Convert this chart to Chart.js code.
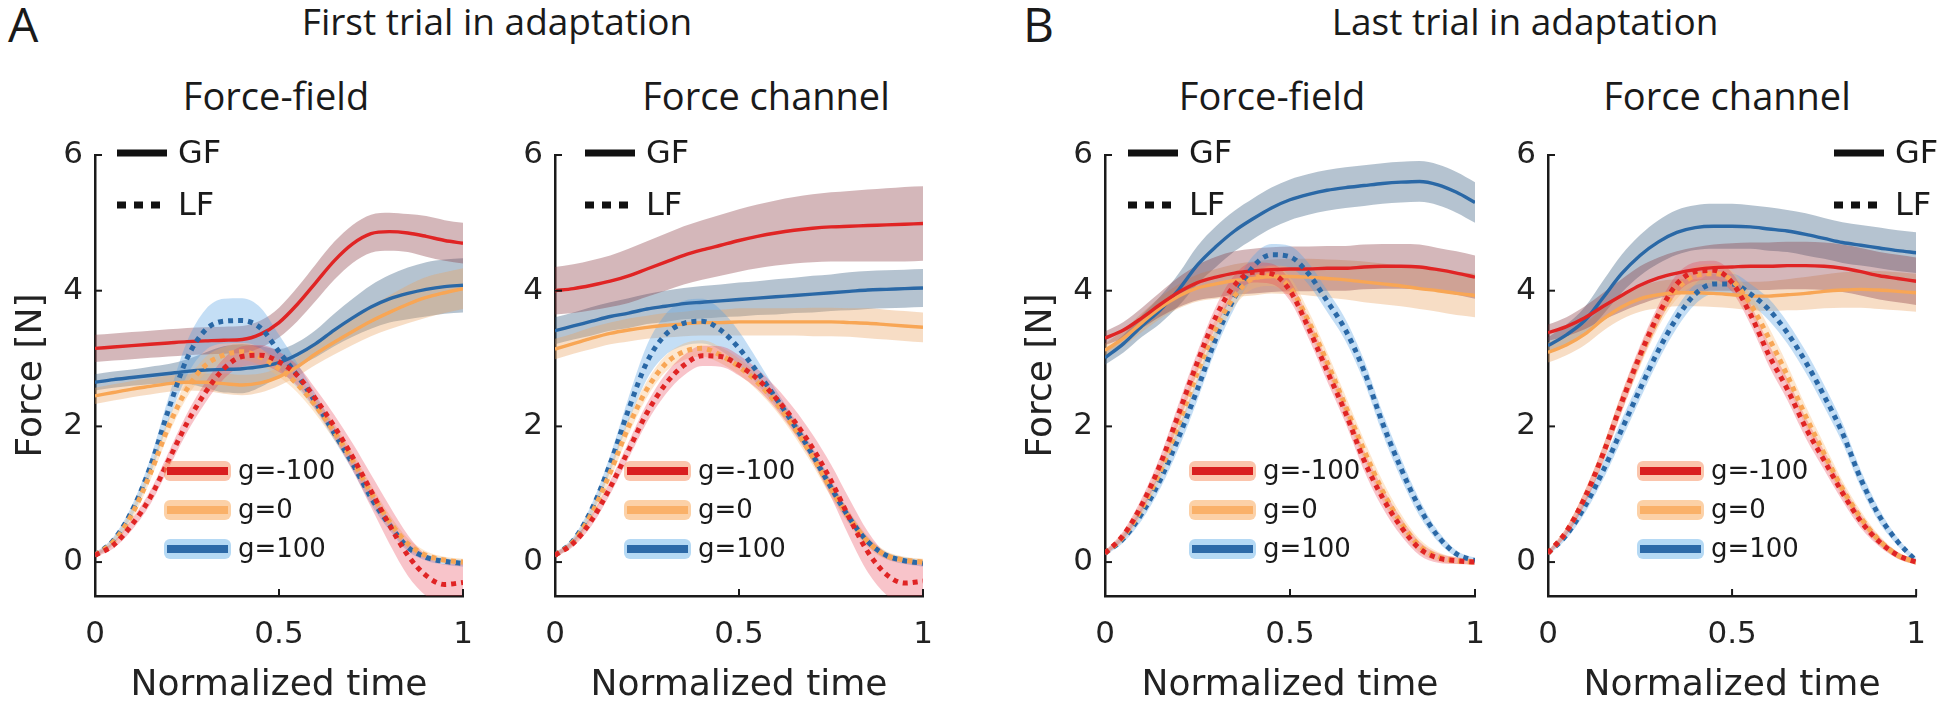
<!DOCTYPE html>
<html>
<head>
<meta charset="utf-8">
<script src="https://cdn.jsdelivr.net/npm/chart.js@4.4.1/dist/chart.umd.min.js"></script>
<style>
  html, body { margin: 0; padding: 0; background: #fff; overflow: hidden; }
  #wrap { position: relative; width: 1946px; height: 709px; }
  canvas { position: absolute; top: 0; }
  .t { position: absolute; font-family: 'Open Sans', sans-serif; color: #1a1a1a; white-space: nowrap; line-height: 1; }
  .c { transform: translateX(-50%); }
</style>
</head>
<body>
<div id="wrap">
  <div class="t" style="left:8px;top:0px;font-size:48px">A</div>
  <div class="t c" style="left:497px;top:2px;font-size:37px">First trial in adaptation</div>
  <div class="t c" style="left:276px;top:76px;font-size:38px">Force-field</div>
  <div class="t c" style="left:766px;top:76px;font-size:38px">Force channel</div>
  <div class="t" style="left:1023px;top:0px;font-size:48px">B</div>
  <div class="t c" style="left:1525px;top:2px;font-size:37px">Last trial in adaptation</div>
  <div class="t c" style="left:1272px;top:76px;font-size:38px">Force-field</div>
  <div class="t c" style="left:1727px;top:76px;font-size:38px">Force channel</div>

  <canvas id="a1" width="488" height="709" style="left:5px"></canvas>
  <canvas id="a2" width="488" height="709" style="left:465px"></canvas>
  <canvas id="b1" width="490" height="709" style="left:1015px"></canvas>
  <canvas id="b2" width="488" height="709" style="left:1458px"></canvas>
</div>

<script>
// ---- data ----
const time = [0, 0.05, 0.1, 0.15, 0.2, 0.25, 0.3, 0.35, 0.4, 0.45, 0.5, 0.55, 0.6, 0.65, 0.7, 0.75, 0.8, 0.85, 0.9, 0.95, 1];
const xTicks = [0, 0.5, 1];
const yTicks = [0, 2, 4, 6];
const groups = ["g=-100", "g=0", "g=100"];

// A, force-field (first trial)
const A1_GF_neg = [3.15, 3.17, 3.19, 3.21, 3.23, 3.25, 3.26, 3.27, 3.28, 3.36, 3.53, 3.8, 4.12, 4.44, 4.69, 4.84, 4.87, 4.85, 4.8, 4.74, 4.7];
const A1_GF_zero = [2.45, 2.5, 2.55, 2.59, 2.63, 2.65, 2.65, 2.63, 2.61, 2.64, 2.73, 2.88, 3.07, 3.24, 3.4, 3.55, 3.68, 3.8, 3.9, 3.97, 4.03];
const A1_GF_pos = [2.65, 2.69, 2.72, 2.75, 2.78, 2.81, 2.83, 2.84, 2.85, 2.88, 2.94, 3.06, 3.22, 3.42, 3.6, 3.76, 3.88, 3.96, 4.02, 4.06, 4.08];
const A1_GF_neg_sd = [0.2, 0.2, 0.2, 0.2, 0.2, 0.2, 0.2, 0.2, 0.2, 0.2, 0.22, 0.25, 0.27, 0.28, 0.28, 0.28, 0.28, 0.28, 0.3, 0.3, 0.3];
const A1_GF_zero_sd = [0.12, 0.12, 0.12, 0.12, 0.12, 0.12, 0.13, 0.15, 0.15, 0.14, 0.13, 0.14, 0.16, 0.18, 0.2, 0.22, 0.25, 0.28, 0.3, 0.3, 0.3];
const A1_GF_pos_sd = [0.12, 0.12, 0.12, 0.13, 0.14, 0.18, 0.26, 0.34, 0.36, 0.3, 0.2, 0.18, 0.2, 0.24, 0.28, 0.32, 0.35, 0.38, 0.4, 0.4, 0.4];
const A1_LF_neg = [0.1, 0.25, 0.55, 0.95, 1.5, 2.05, 2.5, 2.85, 3.03, 3.05, 2.95, 2.75, 2.4, 2.0, 1.55, 1.05, 0.55, 0.1, -0.2, -0.33, -0.3];
const A1_LF_zero = [0.1, 0.3, 0.7, 1.3, 2.0, 2.55, 2.9, 3.05, 3.1, 3.02, 2.85, 2.62, 2.3, 1.92, 1.5, 1.02, 0.6, 0.27, 0.1, 0.03, 0.0];
const A1_LF_pos = [0.1, 0.32, 0.75, 1.4, 2.25, 3.0, 3.42, 3.55, 3.56, 3.45, 3.1, 2.75, 2.35, 1.9, 1.45, 0.95, 0.55, 0.22, 0.07, 0.01, -0.02];
const A1_LF_neg_sd = [0.03, 0.05, 0.08, 0.1, 0.12, 0.14, 0.15, 0.15, 0.15, 0.15, 0.15, 0.15, 0.15, 0.17, 0.2, 0.24, 0.28, 0.3, 0.3, 0.3, 0.28];
const A1_LF_zero_sd = [0.03, 0.05, 0.08, 0.1, 0.12, 0.12, 0.12, 0.12, 0.12, 0.12, 0.12, 0.12, 0.12, 0.12, 0.12, 0.12, 0.1, 0.08, 0.06, 0.05, 0.05];
const A1_LF_pos_sd = [0.03, 0.05, 0.08, 0.12, 0.18, 0.25, 0.3, 0.33, 0.33, 0.3, 0.25, 0.18, 0.12, 0.1, 0.1, 0.1, 0.08, 0.06, 0.05, 0.05, 0.05];

// A, force channel (first trial)
const A2_GF_neg = [4.0, 4.03, 4.08, 4.14, 4.22, 4.32, 4.42, 4.52, 4.6, 4.67, 4.74, 4.8, 4.85, 4.89, 4.92, 4.94, 4.95, 4.96, 4.97, 4.98, 4.99];
const A2_GF_zero = [3.14, 3.22, 3.3, 3.37, 3.42, 3.46, 3.49, 3.51, 3.53, 3.53, 3.54, 3.54, 3.54, 3.54, 3.54, 3.54, 3.53, 3.52, 3.5, 3.48, 3.46];
const A2_GF_pos = [3.41, 3.48, 3.55, 3.62, 3.67, 3.73, 3.77, 3.81, 3.83, 3.85, 3.87, 3.89, 3.91, 3.93, 3.95, 3.97, 3.99, 4.01, 4.02, 4.03, 4.04];
const A2_GF_neg_sd = [0.35, 0.36, 0.37, 0.38, 0.4, 0.41, 0.42, 0.43, 0.44, 0.45, 0.46, 0.47, 0.48, 0.49, 0.5, 0.51, 0.52, 0.53, 0.54, 0.55, 0.55];
const A2_GF_zero_sd = [0.15, 0.15, 0.16, 0.16, 0.17, 0.17, 0.18, 0.18, 0.19, 0.19, 0.2, 0.2, 0.2, 0.2, 0.21, 0.21, 0.21, 0.22, 0.22, 0.22, 0.22];
const A2_GF_pos_sd = [0.2, 0.2, 0.21, 0.21, 0.22, 0.22, 0.23, 0.23, 0.24, 0.24, 0.25, 0.25, 0.26, 0.26, 0.27, 0.27, 0.28, 0.28, 0.28, 0.28, 0.28];
const A2_LF_neg = [0.1, 0.28, 0.62, 1.1, 1.65, 2.2, 2.62, 2.9, 3.04, 3.03, 2.9, 2.7, 2.42, 2.08, 1.68, 1.2, 0.65, 0.15, -0.18, -0.31, -0.28];
const A2_LF_zero = [0.1, 0.3, 0.72, 1.32, 2.0, 2.55, 2.92, 3.1, 3.15, 3.05, 2.88, 2.65, 2.35, 1.98, 1.55, 1.08, 0.65, 0.3, 0.1, 0.03, 0.0];
const A2_LF_pos = [0.1, 0.32, 0.78, 1.45, 2.25, 2.95, 3.35, 3.52, 3.55, 3.42, 3.15, 2.8, 2.42, 2.02, 1.58, 1.1, 0.65, 0.3, 0.1, 0.02, -0.02];
const A2_LF_neg_sd = [0.03, 0.05, 0.08, 0.1, 0.12, 0.14, 0.15, 0.15, 0.15, 0.15, 0.15, 0.15, 0.16, 0.18, 0.2, 0.24, 0.28, 0.3, 0.3, 0.3, 0.28];
const A2_LF_zero_sd = [0.03, 0.05, 0.08, 0.1, 0.12, 0.12, 0.12, 0.12, 0.12, 0.12, 0.12, 0.12, 0.12, 0.12, 0.12, 0.12, 0.1, 0.08, 0.06, 0.05, 0.05];
const A2_LF_pos_sd = [0.03, 0.05, 0.08, 0.12, 0.18, 0.25, 0.3, 0.33, 0.33, 0.3, 0.25, 0.18, 0.12, 0.1, 0.1, 0.1, 0.08, 0.06, 0.05, 0.05, 0.05];

// B, force-field (last trial)
const B1_GF_neg = [3.3, 3.42, 3.6, 3.8, 3.98, 4.12, 4.2, 4.26, 4.29, 4.31, 4.32, 4.32, 4.33, 4.33, 4.35, 4.36, 4.36, 4.35, 4.31, 4.26, 4.2];
const B1_GF_zero = [3.12, 3.3, 3.53, 3.75, 3.92, 4.04, 4.1, 4.15, 4.18, 4.21, 4.21, 4.2, 4.18, 4.16, 4.13, 4.1, 4.07, 4.03, 4.0, 3.96, 3.93];
const B1_GF_pos = [3.01, 3.22, 3.48, 3.72, 4.02, 4.38, 4.65, 4.88, 5.06, 5.22, 5.34, 5.42, 5.48, 5.52, 5.55, 5.58, 5.6, 5.61, 5.56, 5.45, 5.3];
const B1_GF_neg_sd = [0.1, 0.12, 0.15, 0.18, 0.22, 0.26, 0.3, 0.32, 0.33, 0.33, 0.33, 0.33, 0.33, 0.33, 0.33, 0.33, 0.33, 0.33, 0.32, 0.32, 0.32];
const B1_GF_zero_sd = [0.1, 0.12, 0.14, 0.16, 0.18, 0.2, 0.22, 0.24, 0.25, 0.25, 0.26, 0.27, 0.28, 0.29, 0.3, 0.3, 0.3, 0.3, 0.31, 0.32, 0.32];
const B1_GF_pos_sd = [0.1, 0.13, 0.16, 0.2, 0.24, 0.28, 0.3, 0.3, 0.3, 0.3, 0.3, 0.3, 0.3, 0.3, 0.3, 0.3, 0.3, 0.3, 0.3, 0.3, 0.3];
const B1_LF_neg = [0.13, 0.4, 0.85, 1.45, 2.2, 2.95, 3.62, 4.08, 4.27, 4.25, 4.0, 3.45, 2.82, 2.2, 1.5, 0.95, 0.52, 0.2, 0.06, 0.02, 0.0];
const B1_LF_zero = [0.13, 0.38, 0.8, 1.35, 2.05, 2.8, 3.45, 3.92, 4.18, 4.22, 4.05, 3.55, 2.95, 2.3, 1.65, 1.05, 0.58, 0.24, 0.08, 0.02, 0.0];
const B1_LF_pos = [0.13, 0.35, 0.72, 1.22, 1.85, 2.55, 3.3, 3.9, 4.35, 4.53, 4.5, 4.25, 3.85, 3.42, 2.82, 2.05, 1.38, 0.8, 0.38, 0.12, 0.02];
const B1_LF_neg_sd = [0.03, 0.06, 0.1, 0.12, 0.15, 0.15, 0.15, 0.15, 0.15, 0.15, 0.15, 0.15, 0.15, 0.15, 0.15, 0.15, 0.13, 0.1, 0.07, 0.05, 0.04];
const B1_LF_zero_sd = [0.03, 0.06, 0.1, 0.12, 0.15, 0.15, 0.15, 0.15, 0.15, 0.15, 0.15, 0.15, 0.15, 0.15, 0.15, 0.15, 0.13, 0.1, 0.07, 0.05, 0.04];
const B1_LF_pos_sd = [0.03, 0.06, 0.1, 0.13, 0.16, 0.16, 0.16, 0.16, 0.16, 0.16, 0.16, 0.16, 0.16, 0.16, 0.16, 0.16, 0.15, 0.12, 0.08, 0.05, 0.04];

// B, force channel (last trial)
const B2_GF_neg = [3.38, 3.47, 3.6, 3.77, 3.93, 4.08, 4.19, 4.26, 4.31, 4.34, 4.35, 4.36, 4.36, 4.37, 4.37, 4.36, 4.33, 4.28, 4.22, 4.18, 4.14];
const B2_GF_zero = [3.09, 3.2, 3.36, 3.58, 3.76, 3.88, 3.94, 3.97, 3.97, 3.96, 3.94, 3.92, 3.92, 3.94, 3.96, 3.99, 4.01, 4.02, 4.01, 3.99, 3.97];
const B2_GF_pos = [3.19, 3.35, 3.56, 3.9, 4.25, 4.52, 4.72, 4.86, 4.93, 4.95, 4.95, 4.94, 4.91, 4.88, 4.83, 4.77, 4.71, 4.67, 4.63, 4.59, 4.56];
const B2_GF_neg_sd = [0.12, 0.14, 0.17, 0.2, 0.24, 0.28, 0.3, 0.32, 0.33, 0.34, 0.35, 0.35, 0.35, 0.35, 0.35, 0.35, 0.35, 0.35, 0.35, 0.35, 0.35];
const B2_GF_zero_sd = [0.15, 0.15, 0.16, 0.17, 0.18, 0.19, 0.2, 0.2, 0.2, 0.2, 0.2, 0.21, 0.22, 0.23, 0.24, 0.25, 0.26, 0.27, 0.28, 0.28, 0.28];
const B2_GF_pos_sd = [0.12, 0.15, 0.2, 0.25, 0.28, 0.3, 0.32, 0.33, 0.33, 0.33, 0.33, 0.32, 0.32, 0.31, 0.31, 0.3, 0.3, 0.3, 0.3, 0.3, 0.3];
const B2_LF_neg = [0.13, 0.45, 0.95, 1.6, 2.35, 3.05, 3.65, 4.1, 4.28, 4.3, 4.12, 3.65, 3.05, 2.55, 1.98, 1.5, 1.02, 0.6, 0.3, 0.1, 0.0];
const B2_LF_zero = [0.13, 0.45, 0.95, 1.6, 2.35, 3.02, 3.6, 4.02, 4.22, 4.25, 4.15, 3.8, 3.3, 2.75, 2.15, 1.6, 1.08, 0.65, 0.32, 0.1, 0.0];
const B2_LF_pos = [0.13, 0.4, 0.82, 1.35, 1.95, 2.55, 3.12, 3.6, 3.95, 4.1, 4.1, 3.95, 3.72, 3.38, 2.95, 2.45, 1.9, 1.22, 0.68, 0.3, 0.02];
const B2_LF_neg_sd = [0.03, 0.06, 0.1, 0.12, 0.14, 0.14, 0.14, 0.14, 0.14, 0.14, 0.14, 0.15, 0.16, 0.16, 0.15, 0.14, 0.12, 0.1, 0.07, 0.05, 0.04];
const B2_LF_zero_sd = [0.03, 0.06, 0.1, 0.12, 0.14, 0.14, 0.14, 0.14, 0.14, 0.14, 0.14, 0.15, 0.16, 0.16, 0.15, 0.14, 0.12, 0.1, 0.07, 0.05, 0.04];
const B2_LF_pos_sd = [0.03, 0.06, 0.1, 0.13, 0.15, 0.15, 0.15, 0.15, 0.15, 0.15, 0.15, 0.15, 0.16, 0.16, 0.16, 0.16, 0.15, 0.13, 0.1, 0.06, 0.04];

// ---- styles ----
const lineColors = ["#e02424", "#f8a655", "#2a68a6"];
const gfBand = ["rgba(135,55,65,0.36)", "rgba(232,160,95,0.36)", "rgba(50,90,125,0.36)"];
const lfBand = ["rgba(232,60,80,0.3)", "rgba(250,180,105,0.32)", "rgba(85,160,225,0.35)"];
const keyHalo = ["rgba(248,140,90,0.5)", "rgba(250,172,95,0.55)", "rgba(120,185,235,0.55)"];
const keyCore = ["#d91f1f", "rgba(250,172,95,0.85)", "#2d6aa8"];

Chart.defaults.font.family = "'DejaVu Sans', sans-serif";

const pts = (arr) => time.map((t, i) => ({ x: t, y: arr[i] }));
const shift = (arr, sd, s) => arr.map((v, i) => v + s * sd[i]);

function lineSet(arr, color, dotted) {
  return {
    data: pts(arr), borderColor: color, borderWidth: dotted ? 5 : 3.4,
    borderDash: dotted ? [5, 5] : [], borderCapStyle: "butt",
    fill: false, pointRadius: 0,
  };
}

function bandPair(arr, sd, color) {
  return [
    { data: pts(shift(arr, sd, 1)), borderWidth: 0, borderColor: "transparent", backgroundColor: color, fill: "+1", pointRadius: 0 },
    { data: pts(shift(arr, sd, -1)), borderWidth: 0, borderColor: "transparent", fill: false, pointRadius: 0 },
  ];
}

function makeDatasets(gf, gfSd, lf, lfSd) {
  const out = [];
  for (let k = 0; k < 3; k++) out.push(lineSet(lf[k], lineColors[k], true));
  for (let k = 0; k < 3; k++) out.push(lineSet(gf[k], lineColors[k], false));
  for (let k = 0; k < 3; k++) out.push(...bandPair(lf[k], lfSd[k], lfBand[k]));
  for (let k = 0; k < 3; k++) out.push(...bandPair(gf[k], gfSd[k], gfBand[k]));
  return out;
}

// GF/LF key and colour key
const keysPlugin = {
  id: "keys",
  afterDraw(chart, args, o) {
    const { ctx, chartArea: a } = chart;
    ctx.save();
    const sx = a.left + o.styleX;
    ctx.strokeStyle = "#111";
    ctx.lineWidth = 7;
    ctx.beginPath(); ctx.moveTo(sx, a.top - 2); ctx.lineTo(sx + 50, a.top - 2); ctx.stroke();
    ctx.setLineDash([9, 8]);
    ctx.beginPath(); ctx.moveTo(sx, a.top + 50); ctx.lineTo(sx + 43, a.top + 50); ctx.stroke();
    ctx.setLineDash([]);
    ctx.fillStyle = "#1a1a1a";
    ctx.font = "32px 'DejaVu Sans'";
    ctx.textBaseline = "middle";
    ctx.fillText("GF", sx + 61, a.top);
    ctx.fillText("LF", sx + 61, a.top + 52);

    ctx.font = "26px 'DejaVu Sans'";
    groups.forEach((g, k) => {
      const y = a.top + 316 + k * 39;
      const x0 = a.left + o.colorX;
      ctx.fillStyle = keyHalo[k];
      ctx.beginPath(); ctx.roundRect(x0 - 3, y - 10, 67, 20, 6); ctx.fill();
      ctx.strokeStyle = keyCore[k];
      ctx.lineWidth = 8;
      ctx.beginPath(); ctx.moveTo(x0, y); ctx.lineTo(x0 + 61, y); ctx.stroke();
      ctx.fillStyle = "#1a1a1a";
      ctx.fillText(g, x0 + 71, y + 1);
    });
    ctx.restore();
  },
};

// MATLAB-style inward ticks
const inwardTicks = {
  id: "inwardTicks",
  afterDraw(chart) {
    const { ctx, chartArea: a, scales: { x, y } } = chart;
    ctx.save();
    ctx.strokeStyle = "#1a1a1a";
    ctx.lineWidth = 2;
    yTicks.forEach((v) => {
      const py = y.getPixelForValue(v);
      ctx.beginPath(); ctx.moveTo(a.left, py); ctx.lineTo(a.left + 7, py); ctx.stroke();
    });
    xTicks.forEach((v) => {
      const px = x.getPixelForValue(v);
      ctx.beginPath(); ctx.moveTo(px, a.bottom); ctx.lineTo(px, a.bottom - 7); ctx.stroke();
    });
    ctx.restore();
  },
};

function makeOptions(o) {
  return {
    responsive: false,
    animation: false,
    events: [],
    layout: { padding: { left: 0, top: 155, right: o.padRight, bottom: 0 } },
    elements: { line: { cubicInterpolationMode: "monotone" }, point: { radius: 0 } },
    plugins: {
      legend: { display: false },
      tooltip: { enabled: false },
      filler: { drawTime: "beforeDatasetsDraw", propagate: false },
      keys: o.keys,
    },
    scales: {
      x: {
        type: "linear", min: 0, max: 1,
        afterBuildTicks: (s) => { s.ticks = xTicks.map((v) => ({ value: v })); },
        afterFit: (s) => { s.height = 113; },
        grid: { display: false, drawTicks: false },
        border: { display: true, color: "#1a1a1a", width: 2.5 },
        ticks: { color: "#222", font: { size: 31 }, padding: 20, maxRotation: 0, autoSkip: false, callback: (v) => String(v) },
        title: { display: true, text: "Normalized time", color: "#222", font: { size: 36 }, padding: { top: 0, bottom: 2 } },
      },
      y: {
        type: "linear", min: -0.5, max: 6,
        afterBuildTicks: (s) => { s.ticks = yTicks.map((v) => ({ value: v })); },
        afterFit: (s) => { s.width = 90; },
        grid: { display: false, drawTicks: false },
        border: { display: true, color: "#1a1a1a", width: 2.5 },
        ticks: { color: "#222", font: { size: 31 }, padding: 12, callback: (v) => String(v) },
        title: { display: o.yTitle, text: "Force [N]", color: "#222", font: { size: 36 }, padding: { top: 5, bottom: 0 } },
      },
    },
  };
}

function draw(id, gf, gfSd, lf, lfSd, o) {
  new Chart(document.getElementById(id), {
    type: "line",
    data: { datasets: makeDatasets(gf, gfSd, lf, lfSd) },
    options: makeOptions(o),
    plugins: [keysPlugin, inwardTicks],
  });
}

draw("a1",
  [A1_GF_neg, A1_GF_zero, A1_GF_pos], [A1_GF_neg_sd, A1_GF_zero_sd, A1_GF_pos_sd],
  [A1_LF_neg, A1_LF_zero, A1_LF_pos], [A1_LF_neg_sd, A1_LF_zero_sd, A1_LF_pos_sd],
  { padRight: 30, yTitle: true, keys: { styleX: 22, colorX: 72 } });

draw("a2",
  [A2_GF_neg, A2_GF_zero, A2_GF_pos], [A2_GF_neg_sd, A2_GF_zero_sd, A2_GF_pos_sd],
  [A2_LF_neg, A2_LF_zero, A2_LF_pos], [A2_LF_neg_sd, A2_LF_zero_sd, A2_LF_pos_sd],
  { padRight: 30, yTitle: false, keys: { styleX: 30, colorX: 72 } });

draw("b1",
  [B1_GF_neg, B1_GF_zero, B1_GF_pos], [B1_GF_neg_sd, B1_GF_zero_sd, B1_GF_pos_sd],
  [B1_LF_neg, B1_LF_zero, B1_LF_pos], [B1_LF_neg_sd, B1_LF_zero_sd, B1_LF_pos_sd],
  { padRight: 30, yTitle: true, keys: { styleX: 23, colorX: 87 } });

draw("b2",
  [B2_GF_neg, B2_GF_zero, B2_GF_pos], [B2_GF_neg_sd, B2_GF_zero_sd, B2_GF_pos_sd],
  [B2_LF_neg, B2_LF_zero, B2_LF_pos], [B2_LF_neg_sd, B2_LF_zero_sd, B2_LF_pos_sd],
  { padRight: 28, yTitle: false, keys: { styleX: 286, colorX: 92 } });
</script>
</body>
</html>
